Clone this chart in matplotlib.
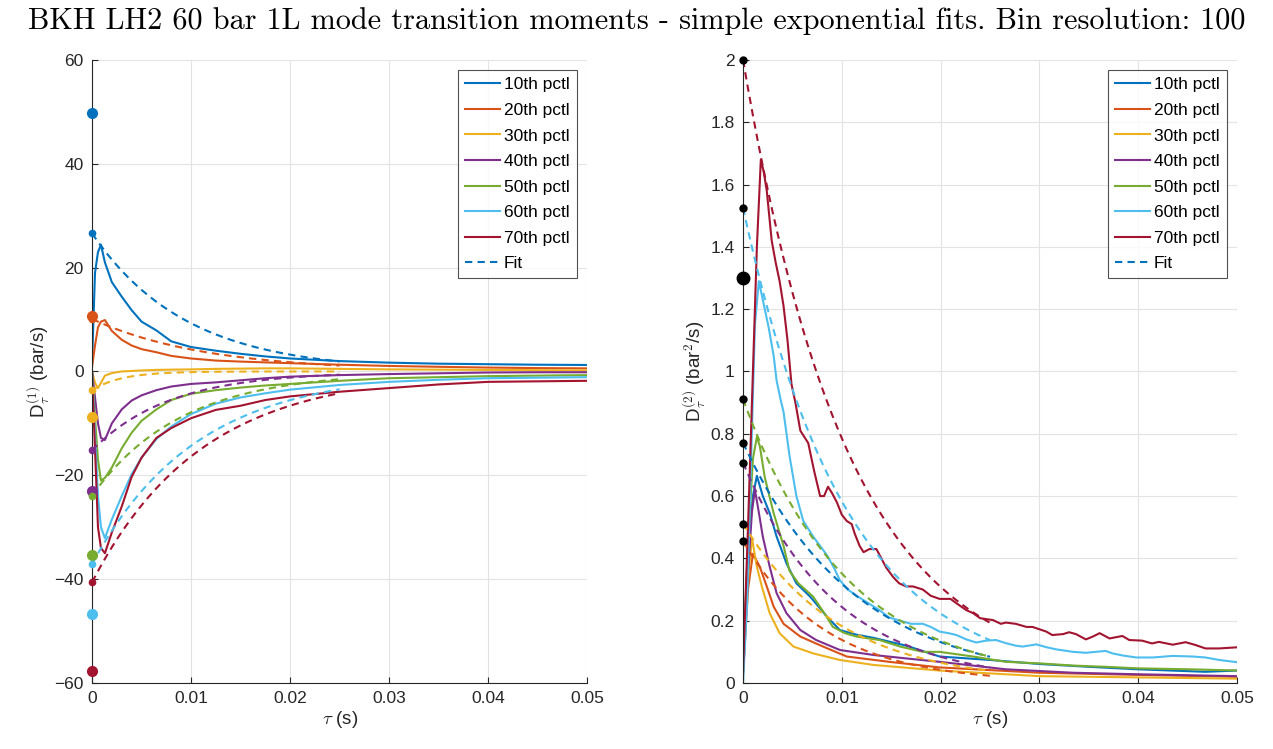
import numpy as np
import matplotlib
matplotlib.use('Agg')
import matplotlib.pyplot as plt

plt.rcParams['font.family'] = ['Liberation Sans', 'DejaVu Sans']
plt.rcParams['mathtext.fontset'] = 'cm'

colors = ['#0072BD', '#D95319', '#EDB120', '#7E2F8E', '#77AC30', '#4DBEEE', '#A2142F']
labels = ['10th pctl', '20th pctl', '30th pctl', '40th pctl', '50th pctl', '60th pctl', '70th pctl']

# ---- left panel: D1 ----
tau1 = [0, .0003, .0006, .0009, .0013, .002, .003, .004, .005, .0065, .008, .010,
        .0125, .015, .0175, .02, .025, .03, .035, .04, .045, .05]
d1 = [
    [1.6, 19, 23, 24.4, 21, 17.2, 14.4, 11.8, 9.6, 7.9, 5.8, 4.7, 4.0, 3.4, 2.9, 2.5, 2.0, 1.7, 1.5, 1.4, 1.3, 1.25],
    [0.9, 5, 8.5, 9.6, 9.9, 7.8, 6.1, 5.0, 4.3, 3.7, 3.0, 2.5, 2.1, 1.9, 1.75, 1.6, 1.3, 1.06, 0.9, 0.75, 0.65, 0.6],
    [0, -2.2, -3.2, -2.2, -0.8, -0.3, 0, 0.1, 0.2, 0.3, 0.35, 0.4, 0.5, 0.55, 0.6, 0.6, 0.5, 0.4, 0.35, 0.3, 0.25, 0.2],
    [0, -5, -10, -12.8, -13.2, -10, -7.3, -5.6, -4.6, -3.6, -2.9, -2.4, -2.1, -1.7, -1.3, -1.0, -0.7, -0.5, -0.35, -0.2, -0.15, -0.15],
    [0, -9, -17, -21, -20.5, -18.5, -14.8, -11.8, -9.5, -7.3, -5.5, -4.3, -3.6, -3.1, -2.7, -2.4, -1.8, -1.3, -1.1, -0.9, -0.8, -0.7],
    [0, -12, -24, -30, -32.1, -28.5, -24, -19.8, -16.6, -13, -10.6, -8.2, -6.2, -5.0, -4.2, -3.5, -2.6, -2.0, -1.6, -1.3, -1.2, -1.1],
    [0, -15, -30, -34, -35, -31, -26, -20.3, -16.6, -12.8, -10.9, -9.0, -7.4, -6.6, -5.5, -4.8, -3.9, -3.2, -2.5, -2.0, -1.9, -1.8],
]
d1_raw0 = [49.7, 10.6, -8.8, -23.0, -35.4, -46.8, -57.7]   # value at tau = 0
d1_fit_a = [26.6, 10.1, -3.6, -15.2, -23.9, -37.1, -40.6]  # fit amplitude
d1_fit_t = [.0095, .0115, .003, .0078, .009, .0105, .011]  # fit decay time (s)

# ---- right panel: D2 ----
tau2 = [
    [0, .0005, .001, .0014, .002, .0027, .0034, .0044, .0054, .0068, .0085, .0098, .0115, .0132, .0165, .0199, .025, .03, .035, .04, .0468, .05],
    [0, .0005, .001, .0017, .0024, .0031, .0041, .0058, .0081, .0105, .0148, .0199, .03, .04, .05],
    [0, .0004, .0009, .0014, .0019, .0027, .0037, .0051, .0071, .0098, .0132, .0199, .03, .04, .05],
    [0, .0005, .0009, .0012, .0015, .002, .0027, .0034, .0044, .0058, .0074, .0098, .0132, .0165, .0199, .0266, .0334, .04, .05],
    [0, .0005, .001, .0014, .0017, .0022, .0031, .0041, .0047, .0056, .0071, .0081, .0091, .0103, .0115, .0138, .0159, .0182, .0199, .0233, .0266, .03, .0334, .0367, .0401, .0452, .0502],
    [0, .0004, .0008, .0012, .0016, .002, .0026, .0031, .0034, .0038, .0041, .0044, .0047, .0054, .0061, .0071, .0078, .0085, .0092, .0098,
     .0106, .0115, .0125, .0138, .0148, .0159, .017, .0182, .019, .0199, .0208, .0216, .0226, .0236, .0246, .0256, .0266, .0276, .0283,
     .0297, .0307, .0317, .0334, .0347, .0367, .0374, .0385, .0398, .0415, .0435, .0455, .0468, .0482, .0502],
    [0, .0005, .001, .0014, .0018, .0021, .0024, .0029, .0033, .0037, .0041, .0045, .0049, .0053, .0058, .0062, .0066, .0072, .0078, .0082,
     .0086, .009, .0095, .0100, .0105, .0110, .0113, .0118, .0122, .0128, .0135, .014, .0145, .0152, .0158, .0165, .0172, .0182, .019, .0199,
     .021, .0216, .0226, .0233, .024, .0253, .0261, .0266, .0276, .0287, .0293, .0307, .0313, .0324, .033, .0337, .0347, .0354, .0361,
     .0371, .0384, .0391, .0404, .0414, .0421, .0435, .0448, .0458, .0468, .0482, .0502],
]
d2 = [
    [.05, .42, .60, .665, .60, .545, .47, .384, .32, .277, .213, .17, .155, .145, .12, .085, .074, .061, .052, .044, .036, .04],
    [.03, .30, .415, .373, .31, .245, .19, .149, .117, .085, .068, .05, .033, .026, .02],
    [.02, .30, .465, .373, .31, .224, .16, .117, .095, .074, .058, .04, .022, .018, .014],
    [.03, .35, .55, .62, .566, .47, .373, .288, .224, .17, .138, .106, .09, .079, .068, .044, .033, .028, .022],
    [.05, .45, .72, .79, .76, .66, .545, .44, .36, .32, .277, .23, .18, .16, .149, .138, .117, .10, .10, .085, .068, .063, .056, .052, .047, .044, .04],
    [0, .25, .70, 1.15, 1.29, 1.23, 1.14, 1.05, .97, .91, .87, .80, .73, .60, .52, .47, .44, .41, .37, .33,
     .30, .28, .26, .234, .21, .20, .19, .19, .18, .165, .16, .154, .14, .13, .136, .138, .128, .12, .117,
     .124, .115, .108, .10, .097, .103, .095, .088, .082, .082, .087, .085, .082, .074, .066],
    [.04, .50, 1.0, 1.4, 1.68, 1.64, 1.58, 1.42, 1.35, 1.29, 1.21, 1.10, .96, .90, .81, .79, .77, .68, .60, .60,
     .63, .61, .58, .54, .52, .51, .48, .44, .42, .43, .43, .40, .37, .34, .32, .31, .31, .30, .28, .27,
     .27, .256, .234, .224, .208, .202, .19, .194, .19, .18, .18, .165, .154, .157, .163, .157, .14, .149, .16,
     .143, .151, .138, .136, .127, .132, .123, .131, .122, .111, .111, .115],
]
d2_raw0 = [1.30]
d2_fit_a = [.771, .455, .512, .707, .911, 1.525, 2.0]
d2_fit_t = [.0113, .0084, .0097, .0094, .0105, .0104, .0107]
fit_end = 0.025

fig = plt.figure(figsize=(12.73, 7.49), dpi=100)
ax1 = fig.add_axes([0.0723, 0.0881, 0.389, 0.8319])
ax2 = fig.add_axes([0.5837, 0.0881, 0.388, 0.8319])
tfit = np.linspace(0, fit_end, 200)

for i in range(7):
    ax1.plot(tau1, d1[i], color=colors[i], lw=1.5, label=labels[i])
for i in range(7):
    ax1.plot(tfit, d1_fit_a[i] * np.exp(-tfit / d1_fit_t[i]), color=colors[i], lw=1.5,
             dashes=(3.5, 2.5), label='Fit' if i == 0 else None)
for i in range(7):
    ax1.plot(0, d1_raw0[i], 'o', color=colors[i], ms=7, clip_on=False, zorder=5)
    ax1.plot(0, d1_fit_a[i], 'o', color=colors[i], ms=4.5, clip_on=False, zorder=5)

for i in range(7):
    ax2.plot(tau2[i], d2[i], color=colors[i], lw=1.5, label=labels[i])
for i in range(7):
    ax2.plot(tfit, d2_fit_a[i] * np.exp(-tfit / d2_fit_t[i]), color=colors[i], lw=1.5,
             dashes=(3.5, 2.5), label='Fit' if i == 0 else None)
for v in d2_fit_a:
    ax2.plot(0, v, 'o', color='black', ms=5, clip_on=False, zorder=5)
for v in d2_raw0:
    ax2.plot(0, v, 'o', color='black', ms=9, clip_on=False, zorder=5)

ax1.set_ylim(-60, 60)
ax1.set_yticks(np.arange(-60, 61, 20))
ax2.set_ylim(0, 2)
ax2.set_yticks(np.arange(0, 2.01, 0.2))
ax2.set_yticklabels(['0', '0.2', '0.4', '0.6', '0.8', '1', '1.2', '1.4', '1.6', '1.8', '2'])

for ax in (ax1, ax2):
    ax.set_xlim(0, 0.05)
    ax.set_xticks([0, 0.01, 0.02, 0.03, 0.04, 0.05])
    ax.set_xticklabels(['0', '0.01', '0.02', '0.03', '0.04', '0.05'])
    ax.grid(True, color='#e3e3e3', lw=0.8)
    ax.set_axisbelow(True)
    for s in ('top', 'right'):
        ax.spines[s].set_visible(False)
    for s in ('left', 'bottom'):
        ax.spines[s].set_color('#262626')
        ax.spines[s].set_linewidth(0.8)
    ax.tick_params(direction='in', length=4, width=0.8, colors='#262626', labelsize=12.5, pad=6)
    ax.set_xlabel(r'$\tau$ (s)', fontsize=13.5, color='#262626', labelpad=2)
    leg = ax.legend(loc='upper right', fontsize=12.5, frameon=True, fancybox=False,
                    handlelength=2.0, handletextpad=0.25, labelspacing=0.6, borderpad=0.4,
                    borderaxespad=0.6)
    leg.get_frame().set_edgecolor('#262626')
    leg.get_frame().set_linewidth(0.8)

ax1.set_ylabel(r'D$_\tau^{(1)}$ (bar/s)', fontsize=13.5, color='#262626', labelpad=2)
ax2.set_ylabel(r'D$_\tau^{(2)}$ (bar$^2$/s)', fontsize=13.5, color='#262626', labelpad=2)

fig.suptitle('BKH LH2 60 bar 1L mode transition moments - simple exponential fits. Bin resolution: 100',
             fontname='cmr10', fontsize=21.8, y=0.99)

fig.savefig('out.png', dpi=100)
